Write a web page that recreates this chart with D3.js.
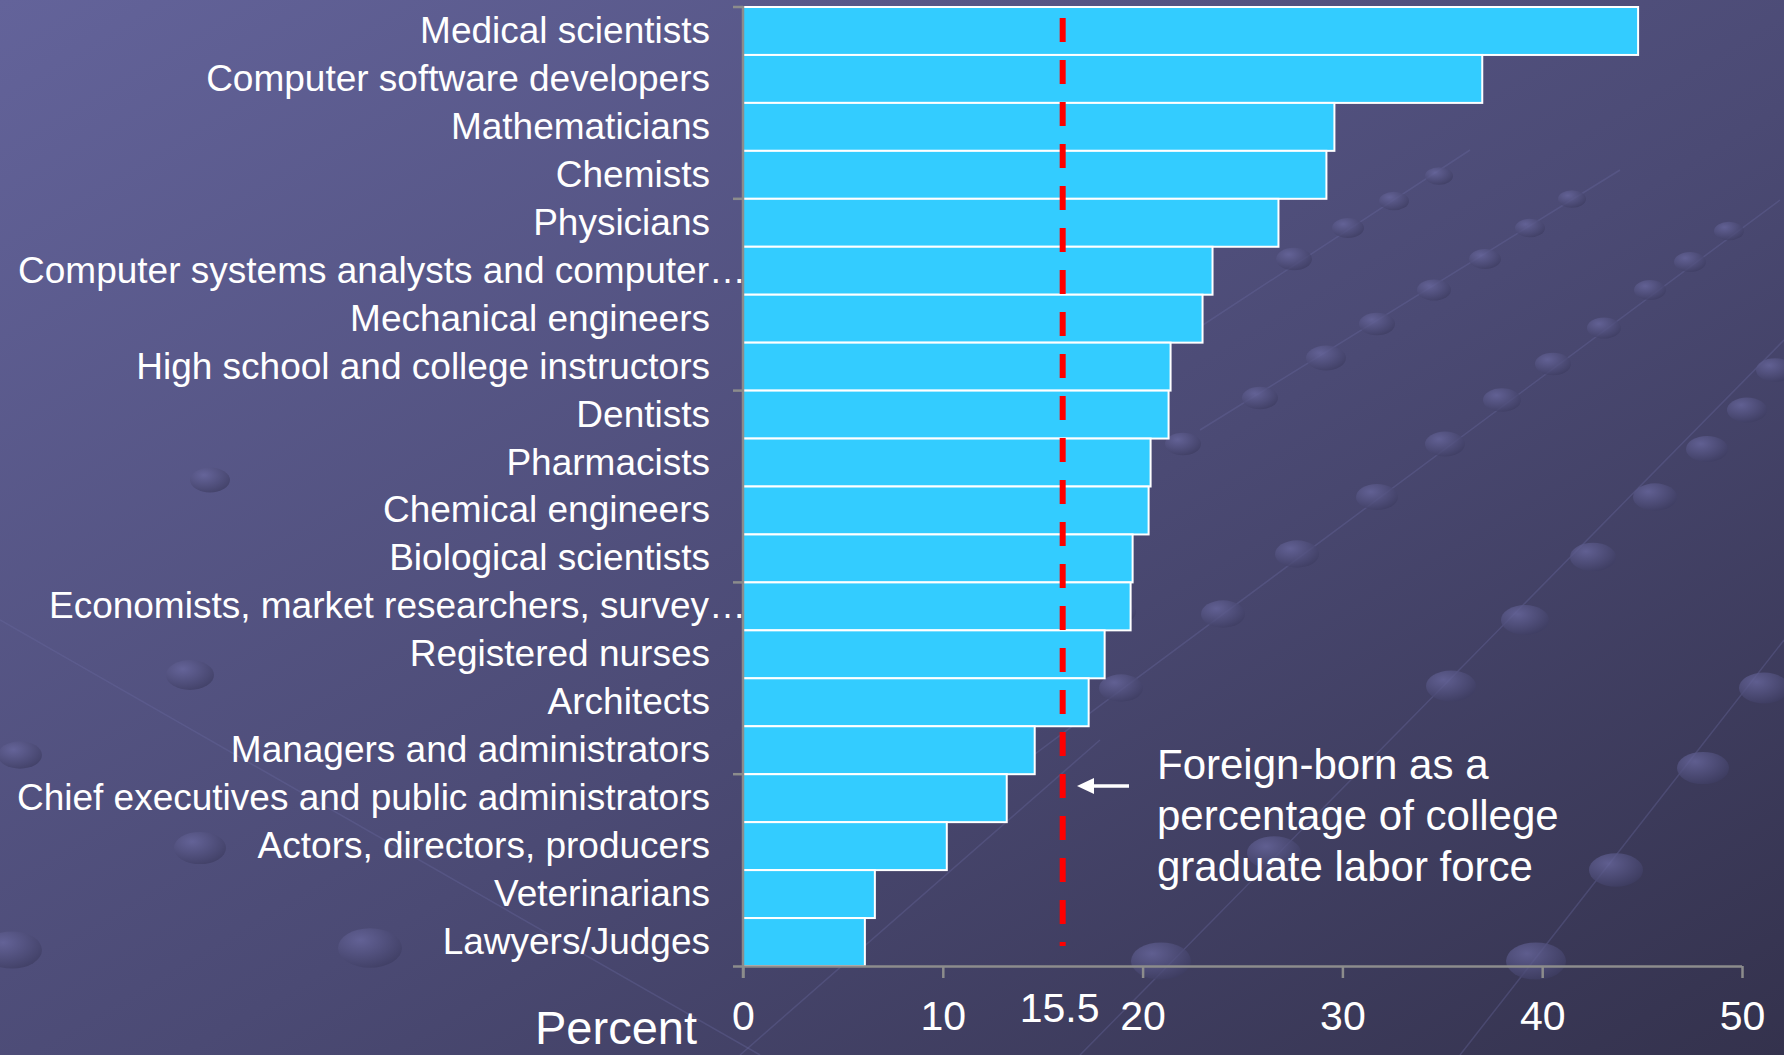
<!DOCTYPE html>
<html>
<head>
<meta charset="utf-8">
<script src="https://cdn.jsdelivr.net/npm/d3@7"></script>
<style>
  html, body { margin: 0; padding: 0; background: #4a4970; }
  svg { display: block; }
  text { font-family: "Liberation Sans", Arial, sans-serif; fill: #ffffff; }
</style>
</head>
<body>
<svg id="chart" width="1784" height="1055"></svg>
<script>
// ---- data ----
const categories = [
  "Medical scientists",
  "Computer software developers",
  "Mathematicians",
  "Chemists",
  "Physicians",
  "Computer systems analysts and computer…",
  "Mechanical engineers",
  "High school and college instructors",
  "Dentists",
  "Pharmacists",
  "Chemical engineers",
  "Biological scientists",
  "Economists, market researchers, survey…",
  "Registered nurses",
  "Architects",
  "Managers and administrators",
  "Chief executives and public administrators",
  "Actors, directors, producers",
  "Veterinarians",
  "Lawyers/Judges"
];
const values = [44.8, 37.0, 29.6, 29.2, 26.8, 23.5, 23.0, 21.4, 21.3, 20.4,
                20.3, 19.5, 19.4, 18.1, 17.3, 14.6, 13.2, 10.2, 6.6, 6.1];
const xTicks = [0, 10, 20, 30, 40, 50];
const xTickLabels = ["0", "10", "20", "30", "40", "50"];
const refLineValue = [16.0];
const refLineLabel = ["15.5"];
const annotationLines = ["Foreign-born as a", "percentage of college", "graduate labor force"];
const axisTitle = ["Percent"];

// ---- layout ----
const W = 1784, H = 1055;
const plot = { left: 743, right: 1742, top: 7, bottom: 966 };
const svg = d3.select("#chart");

// background
const defs = svg.append("defs");
const bg = defs.append("linearGradient").attr("id", "bg")
  .attr("x1", "0").attr("y1", "0").attr("x2", "1").attr("y2", "1");
bg.append("stop").attr("offset", "0%").attr("stop-color", "#63639a");
bg.append("stop").attr("offset", "55%").attr("stop-color", "#4b4a74");
bg.append("stop").attr("offset", "100%").attr("stop-color", "#34324d");
svg.append("rect").attr("width", W).attr("height", H).attr("fill", "url(#bg)");

const dotG = defs.append("radialGradient").attr("id", "dot")
  .attr("cx", "35%").attr("cy", "30%").attr("r", "75%");
dotG.append("stop").attr("offset", "0%").attr("stop-color", "#6a69a0");
dotG.append("stop").attr("offset", "100%").attr("stop-color", "#3e3d62");

// decorative background (template motif: dots on faint diagonal lines)
const decorLines = [
  [[1180, 340], [1470, 150]],
  [[1200, 430], [1620, 170]],
  [[1000, 780], [1780, 200]],
  [[1080, 1055], [1784, 340]],
  [[1460, 1055], [1784, 640]],
  [[0, 620], [760, 1055]],
  [[740, 1055], [1100, 740]]
];
const decorDots = [
  [1294, 259, 18], [1348, 228, 16], [1394, 201, 15], [1439, 176, 14],
  [1326, 358, 20], [1377, 324, 18], [1434, 290, 17], [1485, 259, 16], [1530, 228, 15], [1572, 199, 14],
  [1121, 688, 22], [1223, 614, 22], [1297, 554, 22], [1377, 497, 21], [1445, 444, 20], [1502, 400, 19],
  [1553, 364, 18], [1604, 328, 17], [1650, 290, 16], [1690, 262, 16], [1729, 231, 15],
  [1161, 961, 30], [1274, 853, 27], [1451, 686, 25], [1525, 620, 24], [1593, 557, 23], [1655, 497, 22],
  [1707, 449, 21], [1747, 410, 20], [1775, 370, 19],
  [1536, 961, 30], [1616, 870, 27], [1703, 768, 26], [1764, 688, 25],
  [1183, 444, 18], [1260, 398, 18], [1118, 612, 18],
  [370, 948, 32], [12, 950, 30], [200, 848, 26], [190, 675, 24], [20, 755, 22], [210, 480, 20]
];
const dg = svg.append("g").attr("class", "decor");
dg.selectAll("line").data(decorLines).join("line")
  .attr("x1", d => d[0][0]).attr("y1", d => d[0][1])
  .attr("x2", d => d[1][0]).attr("y2", d => d[1][1])
  .attr("stroke", "#6a69a0").attr("stroke-opacity", 0.35).attr("stroke-width", 1.5);
dg.selectAll("ellipse").data(decorDots).join("ellipse")
  .attr("cx", d => d[0]).attr("cy", d => d[1])
  .attr("rx", d => d[2]).attr("ry", d => d[2] * 0.62)
  .attr("fill", "url(#dot)").attr("opacity", 0.75);

// scales
const x = d3.scaleLinear().domain([0, 50]).range([plot.left, plot.right]);
const y = d3.scaleBand().domain(categories).range([plot.top, plot.bottom]).padding(0);

// bars
svg.append("g").selectAll("rect").data(categories).join("rect")
  .attr("x", x(0))
  .attr("y", d => y(d))
  .attr("width", (d, i) => x(values[i]) - x(0))
  .attr("height", y.bandwidth())
  .attr("fill", "#33ccff")
  .attr("stroke", "#ffffff")
  .attr("stroke-width", 2);

// category labels
svg.append("g").selectAll("text").data(categories).join("text")
  .attr("x", d => d.endsWith("…") ? plot.left + 3 : 710)
  .attr("y", d => y(d) + y.bandwidth() / 2 + 12)
  .attr("text-anchor", "end")
  .attr("font-size", 37)
  .text(d => d);

// axes
const axisColor = "#8c8c8c";
const xAxis = d3.axisBottom(x).tickValues(xTicks)
  .tickFormat((d, i) => xTickLabels[i]).tickSize(12).tickSizeOuter(0);
const gx = svg.append("g").attr("transform", `translate(0,${plot.bottom})`).call(xAxis);
gx.select(".domain").attr("stroke", axisColor).attr("stroke-width", 2.5)
  .attr("d", `M${plot.left - 10},0.5H${plot.right}`);
gx.selectAll(".tick line").attr("stroke", axisColor).attr("stroke-width", 2.5);
gx.selectAll(".tick text").attr("fill", "#ffffff").attr("font-size", 41)
  .attr("font-family", '"Liberation Sans", Arial, sans-serif')
  .attr("y", 64).attr("dy", null);

// y axis line + ticks at every 4th category boundary
const gy = svg.append("g");
gy.append("line").attr("x1", plot.left).attr("x2", plot.left)
  .attr("y1", plot.top - 1).attr("y2", plot.bottom + 12)
  .attr("stroke", axisColor).attr("stroke-width", 2.5);
gy.selectAll("line.tk").data(categories.filter((d, i) => i % 4 === 0)).join("line")
  .attr("class", "tk")
  .attr("x1", plot.left - 10).attr("x2", plot.left)
  .attr("y1", d => y(d)).attr("y2", d => y(d))
  .attr("stroke", axisColor).attr("stroke-width", 2.5);

// reference line
const rx = x(refLineValue[0]);
svg.append("line")
  .attr("x1", rx).attr("x2", rx)
  .attr("y1", 18).attr("y2", 946)
  .attr("stroke", "#ff0000").attr("stroke-width", 6)
  .attr("stroke-dasharray", "24 18");
svg.append("text")
  .attr("x", rx - 3).attr("y", 1022)
  .attr("text-anchor", "middle").attr("font-size", 41)
  .text(refLineLabel[0]);

// arrow
svg.append("line")
  .attr("x1", 1129).attr("x2", 1088).attr("y1", 786).attr("y2", 786)
  .attr("stroke", "#ffffff").attr("stroke-width", 3.5);
svg.append("path")
  .attr("d", "M1077,786 L1094,778 L1094,794 Z")
  .attr("fill", "#ffffff");

// annotation
svg.append("g").selectAll("text").data(annotationLines).join("text")
  .attr("x", 1157)
  .attr("y", (d, i) => 779 + i * 51)
  .attr("font-size", 42)
  .text(d => d);

// axis title
svg.append("text")
  .attr("x", 697).attr("y", 1044)
  .attr("text-anchor", "end").attr("font-size", 47)
  .text(axisTitle[0]);
</script>
</body>
</html>
